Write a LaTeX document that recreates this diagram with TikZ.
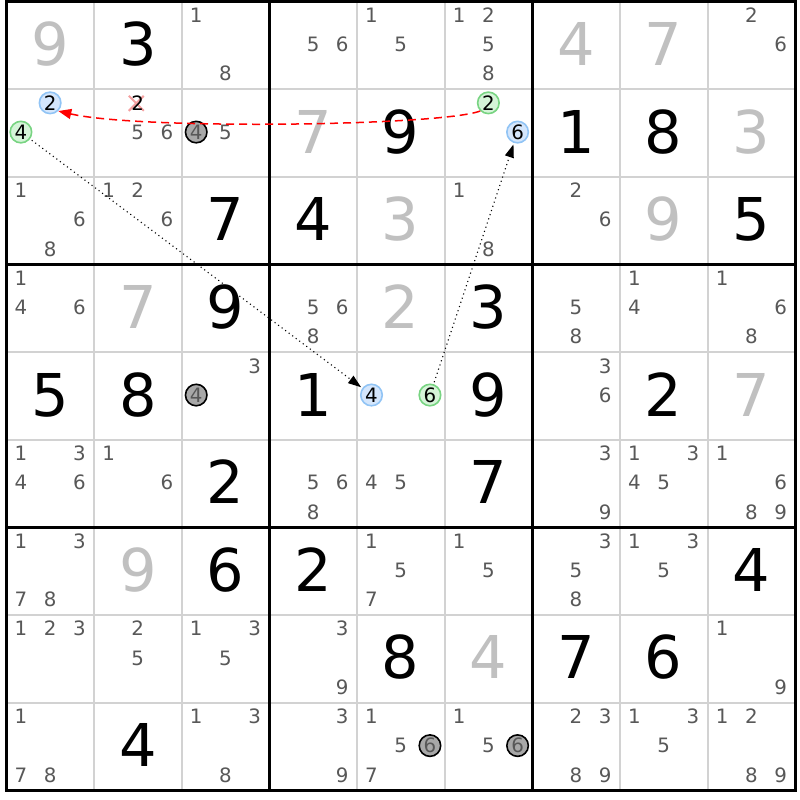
\documentclass[tikz,border=0pt]{standalone}
\usepackage{fontspec}
\setmainfont{DejaVu Sans}
\usetikzlibrary{arrows.meta,calc}
\definecolor{candc}{RGB}{88,88,88}
\definecolor{solvc}{RGB}{192,192,192}
\definecolor{thinc}{RGB}{210,210,210}
\definecolor{bluef}{RGB}{212,230,252}
\definecolor{blued}{RGB}{145,196,245}
\definecolor{greenf}{RGB}{213,244,216}
\definecolor{greend}{RGB}{120,212,130}
\definecolor{grayf}{RGB}{168,168,168}
\definecolor{xred}{RGB}{245,160,160}
\def\gx{6.3}
\def\gy{1.8}
\def\cs{87.65}
\newcommand\sdBig[4]{\node[bigd,text=#4] (B#1#2) at ({\gx+(#2+0.5)*\cs},{\gy+(#1+0.5)*\cs+19.8}) {#3};}
\newcommand\sdPos[3]{%
  \pgfmathsetmacro\px{\gx+#2*\cs+(mod(#3-1,3)+0.5)*\cs/3}%
  \pgfmathsetmacro\py{\gy+#1*\cs+(floor((#3-1)/3)+0.5)*\cs/3-1.2}}
\newcommand\sdCands[3]{\foreach \d in {#3}{\sdPos{#1}{#2}{\d}\node[cand] (C#1#2\d) at (\px,{\py+7.2}) {\d};}}
\newcommand\sdCirc[4]{\sdPos{#1}{#2}{#3}\node[#4] (K#1#2#3) at (\px,\py) {#3};}
\begin{document}
\begin{tikzpicture}[x=1pt,y=-1pt,
  bigd/.style={anchor=base,inner sep=0,font=\fontsize{59}{59}\selectfont},
  cand/.style={anchor=base,inner sep=0,text=candc,font=\fontsize{19.8}{20}\selectfont},
  circbase/.style={circle,inner sep=0,minimum size=21.5pt,line width=1.6pt,font=\fontsize{19.8}{20}\selectfont},
  bluec/.style={circbase,draw=blued,fill=bluef,text=black},
  greenc/.style={circbase,draw=greend,fill=greenf,text=black},
  grayc/.style={circbase,draw=black,fill=grayf,text=candc},
  link/.style={line width=1.1pt,dash pattern=on 1.1pt off 3.3pt,-{Triangle[length=13pt,width=9pt]},shorten <=2pt,shorten >=1.5pt},
  strong/.style={red,line width=1.5pt,dash pattern=on 8pt off 5pt,-{Triangle[length=13pt,width=10pt]}},
]
\fill[white] (0,0) rectangle (800,800);
\useasboundingbox (0,0) rectangle (800,800);
% grid
\foreach \i in {1,2,4,5,7,8}{
  \draw[thinc,line width=2pt] ({\gx+\i*\cs},{\gy}) -- ({\gx+\i*\cs},{\gy+9*\cs});
  \draw[thinc,line width=2pt] ({\gx},{\gy+\i*\cs}) -- ({\gx+9*\cs},{\gy+\i*\cs});
}
\foreach \i in {3,6}{
  \draw[black,line width=3.2pt] ({\gx+\i*\cs},{\gy}) -- ({\gx+\i*\cs},{\gy+9*\cs});
  \draw[black,line width=3.2pt] ({\gx},{\gy+\i*\cs}) -- ({\gx+9*\cs},{\gy+\i*\cs});
}
\draw[black,line width=3.2pt] ({\gx},{\gy}) rectangle ({\gx+9*\cs},{\gy+9*\cs});
% big digits
\sdBig{0}{0}{9}{solvc}\sdBig{0}{1}{3}{black}\sdBig{0}{6}{4}{solvc}\sdBig{0}{7}{7}{solvc}
\sdBig{1}{3}{7}{solvc}\sdBig{1}{4}{9}{black}\sdBig{1}{6}{1}{black}\sdBig{1}{7}{8}{black}\sdBig{1}{8}{3}{solvc}
\sdBig{2}{2}{7}{black}\sdBig{2}{3}{4}{black}\sdBig{2}{4}{3}{solvc}\sdBig{2}{7}{9}{solvc}\sdBig{2}{8}{5}{black}
\sdBig{3}{1}{7}{solvc}\sdBig{3}{2}{9}{black}\sdBig{3}{4}{2}{solvc}\sdBig{3}{5}{3}{black}
\sdBig{4}{0}{5}{black}\sdBig{4}{1}{8}{black}\sdBig{4}{3}{1}{black}\sdBig{4}{5}{9}{black}\sdBig{4}{7}{2}{black}\sdBig{4}{8}{7}{solvc}
\sdBig{5}{2}{2}{black}\sdBig{5}{5}{7}{black}
\sdBig{6}{1}{9}{solvc}\sdBig{6}{2}{6}{black}\sdBig{6}{3}{2}{black}\sdBig{6}{8}{4}{black}
\sdBig{7}{4}{8}{black}\sdBig{7}{5}{4}{solvc}\sdBig{7}{6}{7}{black}\sdBig{7}{7}{6}{black}
\sdBig{8}{1}{4}{black}
% candidates
\sdCands{0}{2}{1,8}\sdCands{0}{3}{5,6}\sdCands{0}{4}{1,5}\sdCands{0}{5}{1,2,5,8}\sdCands{0}{8}{2,6}
\sdCands{1}{1}{5,6}\sdCands{1}{2}{5}
\sdCands{2}{0}{1,6,8}\sdCands{2}{1}{1,2,6}\sdCands{2}{5}{1,8}\sdCands{2}{6}{2,6}
\sdCands{3}{0}{1,4,6}\sdCands{3}{3}{5,6,8}\sdCands{3}{6}{5,8}\sdCands{3}{7}{1,4}\sdCands{3}{8}{1,6,8}
\sdCands{4}{2}{3}\sdCands{4}{6}{3,6}
\sdCands{5}{0}{1,3,4,6}\sdCands{5}{1}{1,6}\sdCands{5}{3}{5,6,8}\sdCands{5}{4}{4,5}\sdCands{5}{6}{3,9}\sdCands{5}{7}{1,3,4,5}\sdCands{5}{8}{1,6,8,9}
\sdCands{6}{0}{1,3,7,8}\sdCands{6}{4}{1,5,7}\sdCands{6}{5}{1,5}\sdCands{6}{6}{3,5,8}\sdCands{6}{7}{1,3,5}
\sdCands{7}{0}{1,2,3}\sdCands{7}{1}{2,5}\sdCands{7}{2}{1,3,5}\sdCands{7}{3}{3,9}\sdCands{7}{8}{1,9}
\sdCands{8}{0}{1,7,8}\sdCands{8}{2}{1,3,8}\sdCands{8}{3}{3,9}\sdCands{8}{4}{1,5,7}\sdCands{8}{5}{1,5}\sdCands{8}{6}{2,3,8,9}\sdCands{8}{7}{1,3,5}\sdCands{8}{8}{1,2,8,9}
% eliminated candidate
\sdPos{1}{1}{2}
\coordinate (X) at ({\px-1.5},{\py+0.5});
\draw[xred,line width=2pt] ($(X)+(-7.5,-7.5)$) -- ($(X)+(7.5,7.5)$) ($(X)+(7.5,-7.5)$) -- ($(X)+(-7.5,7.5)$);
\node[cand,text=black] (C112) at (\px,{\py+7.2}) {2};
% circled candidates
\sdCirc{1}{0}{2}{bluec}
\sdCirc{1}{0}{4}{greenc}
\sdCirc{1}{5}{2}{greenc}
\sdCirc{1}{5}{6}{bluec}
\sdCirc{4}{4}{4}{bluec}
\sdCirc{4}{4}{6}{greenc}
\sdCirc{1}{2}{4}{grayc}
\sdCirc{4}{2}{4}{grayc}
\sdCirc{8}{4}{6}{grayc}
\sdCirc{8}{5}{6}{grayc}
% links
\draw[strong] (K152.-135) .. controls (440,126) and (140,130) .. (K102.-45);
\draw[link] (K104) -- (K444);
\draw[link] (K446) -- (K156);
\end{tikzpicture}
\end{document}
